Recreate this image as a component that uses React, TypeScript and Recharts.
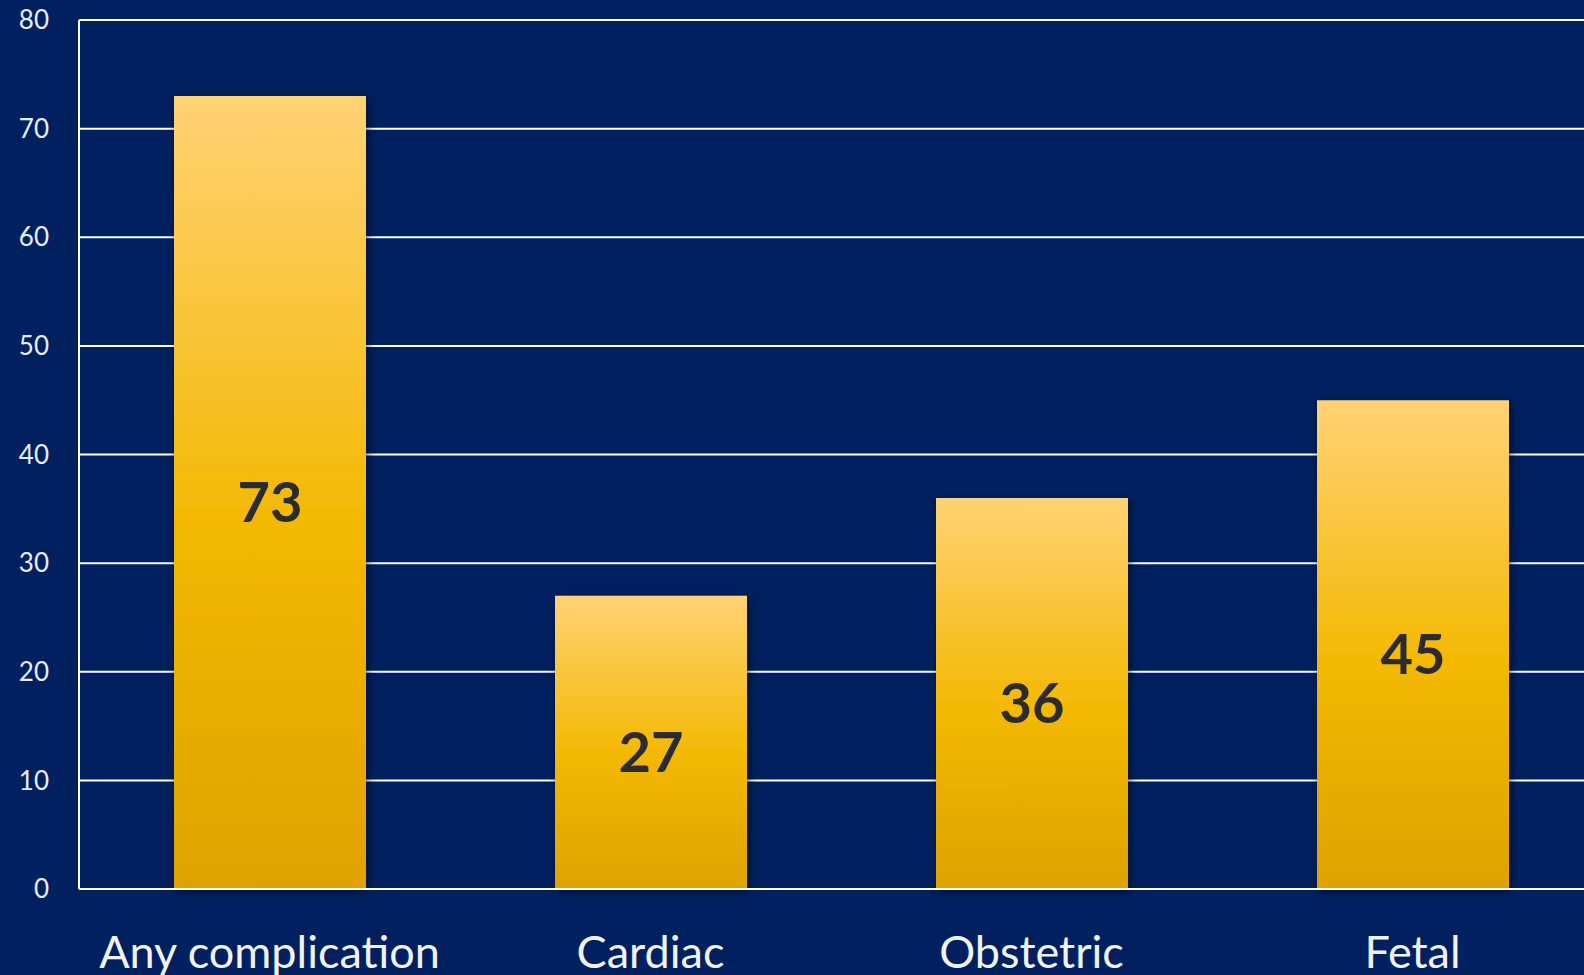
import { BarChart, Bar, XAxis, YAxis, CartesianGrid, LabelList } from 'recharts';

const CATEGORIES = ['Any complication', 'Cardiac', 'Obstetric', 'Fetal'];
const VALUES = [73, 27, 36, 45];
const Y_TICKS = [0, 10, 20, 30, 40, 50, 60, 70, 80];

const data = CATEGORIES.map((name, i) => ({ name, value: VALUES[i] }));

export default function App() {
  return (
    <div
      style={{
        position: 'fixed',
        left: 0,
        top: 0,
        width: 1584,
        height: 975,
        overflow: 'hidden',
        background: '#00205F',
      }}
    >
      <BarChart
        width={1603}
        height={975}
        data={data}
        margin={{ top: 20, right: 0, left: 0, bottom: 0 }}
      >
        <defs>
          <linearGradient id="barFill" x1="0" y1="0" x2="0" y2="1">
            <stop offset="0%" stopColor="#FFD274" />
            <stop offset="55%" stopColor="#F3B800" />
            <stop offset="100%" stopColor="#DFA200" />
          </linearGradient>
          <filter id="barShadow" x="-20%" y="-10%" width="140%" height="120%">
            <feDropShadow dx="2" dy="2" stdDeviation="5" floodColor="#000000" floodOpacity="0.55" />
          </filter>
        </defs>
        <CartesianGrid vertical={false} stroke="#FFFFFF" strokeWidth={2} />
        <XAxis
          dataKey="name"
          height={86}
          tickSize={0}
          tickMargin={47}
          axisLine={{ stroke: '#FFFFFF', strokeWidth: 2 }}
          tick={{ fill: '#F2F2F2', fontSize: 45, fontFamily: 'Lato' }}
          interval={0}
        />
        <YAxis
          width={79}
          domain={[0, 80]}
          ticks={Y_TICKS}
          tickSize={0}
          tickMargin={30}
          axisLine={{ stroke: '#FFFFFF', strokeWidth: 2 }}
          tick={{ fill: '#E8ECF4', fontSize: 26, fontFamily: 'Lato' }}
        />
        <Bar
          dataKey="value"
          barSize={192}
          fill="url(#barFill)"
          filter="url(#barShadow)"
          isAnimationActive={false}
        >
          <LabelList
            dataKey="value"
            position="center"
            offset={0}
            dy={10}
            fill="#2B2B2B"
            style={{ fontSize: 56, fontWeight: 700, fontFamily: 'Lato' }}
          />
        </Bar>
      </BarChart>
    </div>
  );
}
